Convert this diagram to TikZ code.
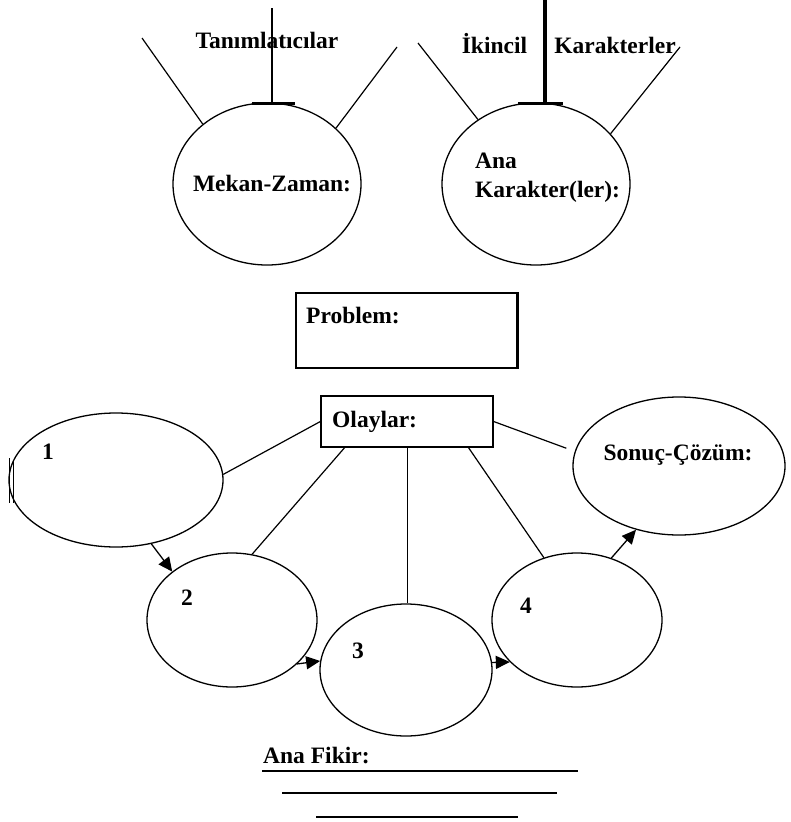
\documentclass[tikz,border=0pt]{standalone}
\usepackage{fontspec}
\setmainfont{Liberation Serif}
\usetikzlibrary{shapes.geometric,arrows.meta,calc}
\begin{document}
\begin{tikzpicture}[x=1pt,y=-1pt,
  txt/.style={font=\bfseries\fontsize{23.5}{27}\selectfont, inner sep=0pt},
  oval/.style={draw, ellipse, inner sep=0pt, line width=1.3pt},
  rbox/.style={draw, rectangle, inner sep=0pt, line width=1.3pt},
  conn/.style={line width=1.2pt},
  arr/.style={line width=1.3pt, -{Triangle[length=14pt,width=13pt]}},
  bar/.style={line width=3pt},
  rule/.style={line width=1.8pt}]
\fill[white] (0,0) rectangle (790,822);
\useasboundingbox (0,0) rectangle (790,822);

% top ellipses
\node[oval, minimum width=188pt, minimum height=162pt] (M) at (267,184) {};
\node[oval, minimum width=188pt, minimum height=162pt] (A) at (536,184) {};

% free ends
\coordinate (mT) at (272,8);
\coordinate (mL) at (142,38);
\coordinate (mR) at (397,47);
\coordinate (aT) at (545,0);
\coordinate (aL) at (418,43);
\coordinate (aR) at (680,47);

\draw[line width=2pt] (mT) -- (mT |- M.north);
\draw[conn] (mL) -- (M.137.8);
\draw[conn] (mR) -- (M.39.7);
\draw[bar] (252,103.5) -- (295,103.5);

\draw[line width=3.5pt] (aT) -- (aT |- A.north);
\draw[conn] (aL) -- (A.132.7);
\draw[conn] (aR) -- (A.34);
\draw[bar] (518,103.5) -- (563,103.5);

\node[txt, anchor=base] (tTan) at (267,48) {Tanımlatıcılar};
\node[txt, anchor=base] (tIk) at (494.5,53) {İkincil};
\node[txt, anchor=base] (tKar) at (615,53) {Karakterler};
\node[txt, anchor=base] (tMek) at (272,191) {Mekan-Zaman:};
\node[txt, anchor=base west] (tAna) at (475,168) {Ana};
\node[txt, anchor=base west] (tKl) at (475,197) {Karakter(ler):};

% problem box
\node[rbox, minimum width=221pt, minimum height=75pt] (P) at (406.5,330.5) {};
\draw[line width=3pt] (P.north east) -- (P.south east);
\node[txt, anchor=base west] (tP) at (306,323) {Problem:};

% olaylar box
\node[rbox, minimum width=172pt, minimum height=51pt] (O) at (407,421.5) {};
\node[txt, anchor=base west] (tO) at (332,427) {Olaylar:};

% event ellipses
\node[oval, minimum width=214pt, minimum height=134pt] (E1) at (116,480) {};
\node[oval, minimum width=170pt, minimum height=134pt] (E2) at (232,620) {};
\node[oval, minimum width=172pt, minimum height=132pt] (E3) at (406,670) {};
\node[oval, minimum width=170pt, minimum height=134pt] (E4) at (577,620) {};
\node[oval, minimum width=212pt, minimum height=138pt] (S) at (679,466) {};
\draw[line width=1.2pt] (9.5,458) -- (9.5,503);
\draw[line width=1.2pt] (13.5,460) -- (13.5,503);

\node[txt, anchor=base] (n1) at (48,459) {1};
\node[txt, anchor=base] (n2) at (187,605) {2};
\node[txt, anchor=base] (n3) at (358,658) {3};
\node[txt, anchor=base] (n4) at (526,613) {4};
\node[txt, anchor=base] (tS) at (678,460) {Sonuç-Çözüm:};

% connectors from Olaylar
\draw[conn] (O.west) -- (E1.3.7);
\draw[conn] ($(O.south west)!0.14!(O.south east)$) -- (E2.73);
\draw[line width=1pt] (O.south) -- (O.south |- E3.north);
\draw[conn] ($(O.south west)!0.855!(O.south east)$) -- (E4.118.9);
\draw[conn, shorten >=9pt] (O.east) -- (S.172);

% arrows
\draw[arr] (E1.-61.6) -- (E2.141.3);
\draw[arr] (E2.-34.5) -- (E3.174.7);
\draw[arr] (E3.5.3) -- (E4.212.5);
\draw[arr] (E4.61.7) -- (S.236.5);

% main idea
\node[txt, anchor=base west] (tF) at (263,763) {Ana Fikir:};
\coordinate (r1a) at (262,771); \coordinate (r1b) at (578,771);
\coordinate (r2a) at (282,793); \coordinate (r2b) at (557,793);
\coordinate (r3a) at (316,817); \coordinate (r3b) at (518,817);
\draw[rule] (r1a) -- (r1b);
\draw[rule] (r2a) -- (r2b);
\draw[rule] (r3a) -- (r3b);
\end{tikzpicture}
\end{document}
